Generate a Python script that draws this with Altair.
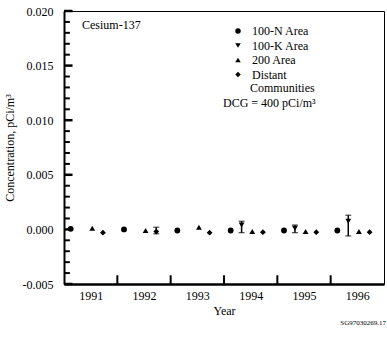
import altair as alt
import pandas as pd

FONT = "Liberation Serif"

years = [1991, 1992, 1993, 1994, 1995, 1996]
series_names = ["100-N Area", "100-K Area", "200 Area", "Distant Communities"]

n_area = [0.00005, 0.0, -0.0001, -0.0001, -0.0001, -0.0001]
k_area = [None, None, None, 0.0004, 0.0001, 0.00075]
k_lo = [None, None, None, -0.0003, -0.0003, -0.0006]
k_hi = [None, None, None, 0.00075, 0.0004, 0.0013]
area_200 = [0.0001, -0.0001, 0.0002, -0.0002, -0.0002, -0.0002]
distant = [-0.0003, -0.0002, -0.0003, -0.00025, -0.00025, -0.00025]
distant_lo = [None, -0.0004, None, None, None, None]
distant_hi = [None, 0.0002, None, None, None, None]

y_tick_values = [-0.005, 0.0, 0.005, 0.010, 0.015, 0.020]
y_minor = [-0.004, -0.003, -0.002, -0.001, 0.001, 0.002, 0.003, 0.004,
           0.006, 0.007, 0.008, 0.009, 0.011, 0.012, 0.013, 0.014,
           0.016, 0.017, 0.018, 0.019]
year_bounds = [1991.5, 1992.5, 1993.5, 1994.5, 1995.5]

# horizontal placement of each series inside its year band (layout only)
offsets = {"100-N Area": -0.375, "100-K Area": -0.17,
           "200 Area": 0.03, "Distant Communities": 0.23}

rows = []
for name, vals, los, his in [
    ("100-N Area", n_area, [None] * 6, [None] * 6),
    ("100-K Area", k_area, k_lo, k_hi),
    ("200 Area", area_200, [None] * 6, [None] * 6),
    ("Distant Communities", distant, distant_lo, distant_hi),
]:
    for yr, v, lo, hi in zip(years, vals, los, his):
        if v is None:
            continue
        rows.append({"year": yr, "series": name, "value": v,
                     "lo": lo, "hi": hi, "xpos": yr + offsets[name]})
df = pd.DataFrame(rows)
err = df.dropna(subset=["lo", "hi"])

xscale = alt.Scale(domain=[1990.5, 1996.5], nice=False, zero=False)
yscale = alt.Scale(domain=[-0.005, 0.020], nice=False, zero=False)

x_axis = alt.Axis(values=years, format="d", ticks=False, grid=False,
                  labelFont=FONT, labelFontSize=12, labelPadding=6,
                  title="Year", titleFont=FONT, titleFontSize=12,
                  titleFontWeight="normal", titlePadding=4,
                  domainColor="black", domainWidth=2.5, labelColor="black",
                  titleColor="black")
y_axis = alt.Axis(values=y_tick_values, ticks=False, grid=False,
                  labelExpr="replace(format(datum.value, '.3f'), '\u2212', '-')",
                  labelFont=FONT, labelFontSize=12, labelPadding=11,
                  title="Concentration, pCi/m\u00b3", titleFont=FONT,
                  titleFontSize=12, titleFontWeight="normal", titlePadding=6,
                  domainColor="black", domainWidth=2, labelColor="black",
                  titleColor="black")

shape_scale = alt.Scale(domain=series_names,
                        range=["circle", "triangle-down", "triangle-up", "diamond"])

legend = alt.Legend(orient="none", legendX=168, legendY=14, title=None,
                    padding=0, labelFont=FONT, labelFontSize=12,
                    labelColor="black", labelOffset=8, rowPadding=2.5,
                    symbolFillColor="black", symbolStrokeColor="black",
                    symbolSize=30, symbolStrokeWidth=0,
                    labelExpr="datum.label == 'Distant Communities' ? 'Distant' : datum.label")

points = alt.Chart(df).mark_point(filled=True, color="black", size=34, opacity=1).encode(
    x=alt.X("xpos:Q", scale=xscale, axis=x_axis),
    y=alt.Y("value:Q", scale=yscale, axis=y_axis),
    shape=alt.Shape("series:N", scale=shape_scale, legend=legend),
)

err_rule = alt.Chart(err).mark_rule(color="black", strokeWidth=1.5).encode(
    x="xpos:Q", y="lo:Q", y2="hi:Q")
cap_lo = alt.Chart(err).mark_tick(color="black", orient="horizontal",
                                  size=6, thickness=1.2).encode(x="xpos:Q", y="lo:Q")
cap_hi = alt.Chart(err).mark_tick(color="black", orient="horizontal",
                                  size=6, thickness=1.2).encode(x="xpos:Q", y="hi:Q")

# inward-pointing axis ticks (made bolder so they survive the rendering)
major = alt.Chart(pd.DataFrame({"v": y_tick_values})).mark_rule(
    color="black", strokeWidth=2.5).encode(
    y=alt.Y("v:Q"), x=alt.datum(1990.5), x2=alt.datum(1990.66))
minor = alt.Chart(pd.DataFrame({"m": y_minor})).mark_rule(
    color="black", strokeWidth=2).encode(
    y=alt.Y("m:Q"), x=alt.datum(1990.5), x2=alt.datum(1990.61))
bottom_ticks = alt.Chart(pd.DataFrame({"b": year_bounds})).mark_rule(
    color="black", strokeWidth=2).encode(
    x=alt.X("b:Q"), y=alt.datum(-0.005), y2=alt.datum(-0.0042))

def note(txt, x, y, size=12, align="left", font=FONT):
    return alt.Chart(pd.DataFrame({"t": [txt]})).mark_text(
        font=font, fontSize=size, align=align, baseline="middle", color="black"
    ).encode(text="t:N", x=alt.value(x), y=alt.value(y))

chart = alt.layer(
    points, err_rule, cap_lo, cap_hi, major, minor, bottom_ticks,
    note("Cesium-137", 18, 14),
    note("Communities", 186, 77),
    note("DCG = 400 pCi/m\u00b3", 159, 92),
    note("SG97030269.17", 322, 312, size=7, align="right"),
).properties(
    width=320, height=273, autosize="none",
    padding={"left": 64, "top": 11, "right": 3, "bottom": 54},
    background="white",
).configure_view(stroke="black", strokeWidth=1)

chart.save("out.html", embed_options={"renderer": "svg", "actions": False})
